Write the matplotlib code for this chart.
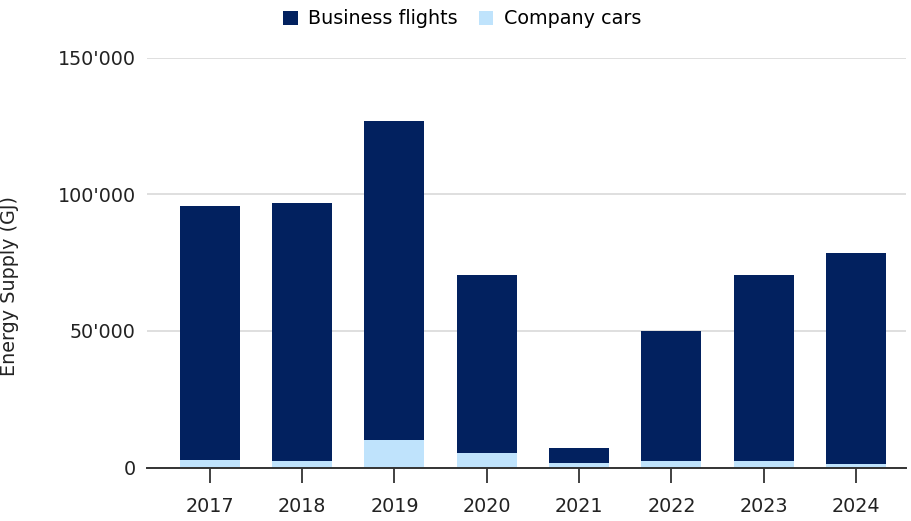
import numpy as np
import matplotlib.pyplot as plt
from matplotlib.ticker import FuncFormatter

# ------------------------- datos -------------------------
years = ["2017", "2018", "2019", "2020", "2021", "2022", "2023", "2024"]
company_cars = [2800, 2300, 10200, 5300, 1700, 2300, 2300, 1400]
totals = [95800, 96900, 126800, 70300, 7100, 49800, 70600, 78600]
business_flights = [t - c for t, c in zip(totals, company_cars)]

col_flights = "#02215f"
col_cars = "#bfe3fc"

plt.rcParams['font.family'] = ['DejaVu Sans']
fs = 13.8

fig = plt.figure(figsize=(9.12, 5.21), dpi=100)
ax = fig.add_axes([147/912, 1 - 467.5/521, (906-147)/912, (467.5-57.5)/521])

x = np.arange(len(years))
w = 0.65
ax.bar(x, company_cars, w, color=col_cars, label="Company cars", zorder=3)
ax.bar(x, business_flights, w, bottom=company_cars, color=col_flights,
       label="Business flights", zorder=3)

ax.set_xlim(-0.68, len(years) - 0.46)
ax.set_ylim(0, 150000)
ax.set_yticks([0, 50000, 100000, 150000])
ax.yaxis.set_major_formatter(FuncFormatter(lambda v, p: f"{int(v):,}".replace(",", "'")))
ax.set_xticks(x)
ax.set_xticklabels(years)

ax.grid(axis="y", color="#d9d9d9", linewidth=1.2, zorder=0)
for s in ["top", "right", "left"]:
    ax.spines[s].set_visible(False)
ax.spines["bottom"].set_color("#333333")
ax.spines["bottom"].set_linewidth(1.4)
ax.spines["bottom"].set_zorder(4)
ax.tick_params(axis="y", length=0, labelsize=fs, pad=8, colors="#222222")
ax.tick_params(axis="x", length=10.5, width=1.3, color="#333333", labelsize=fs,
               pad=11, labelcolor="#222222")
ax.set_ylabel("Energy Supply (GJ)", fontsize=fs, color="#222222")
ax.yaxis.set_label_coords(-(147 - 19) / (906 - 147), 1 - (286 - 57.5) / 410)

h, l = ax.get_legend_handles_labels()
fig.legend(h[::-1], l[::-1], loc="center", bbox_to_anchor=(0.507, 1 - 19/521), ncol=2,
           frameon=False, fontsize=fs, handlelength=0.75, handleheight=0.75,
           handletextpad=0.55, columnspacing=1.1)

fig.savefig("out.png", dpi=100)
